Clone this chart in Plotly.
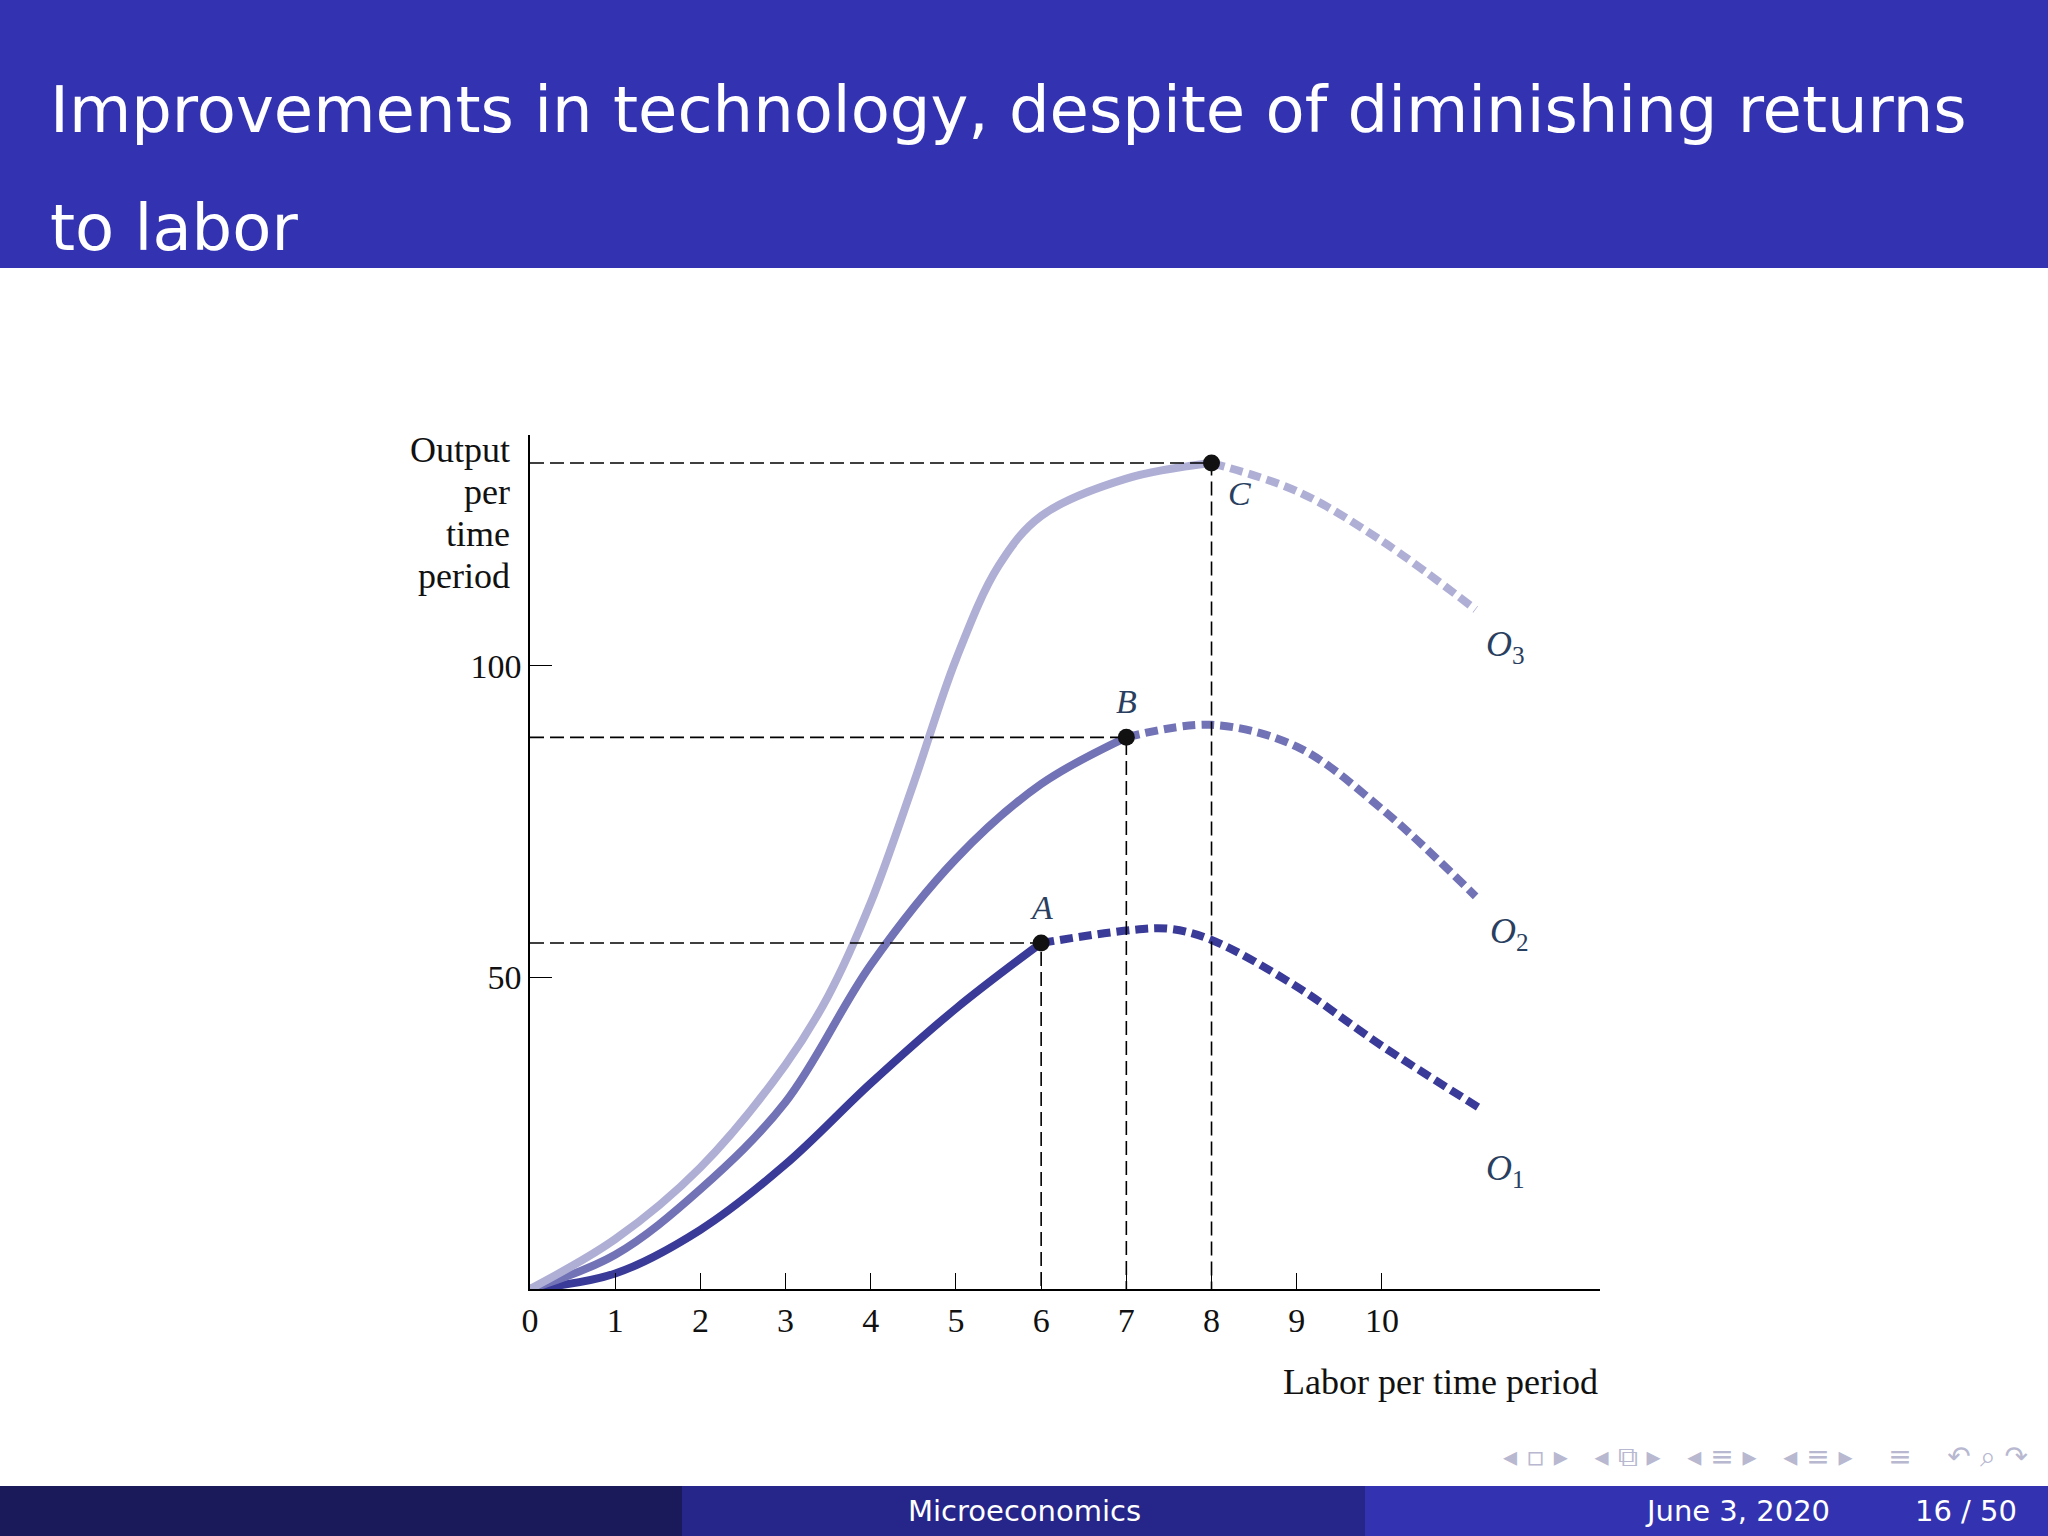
import plotly.graph_objects as go

# data
o1_solid_x = [0, 1, 2, 3, 4, 5, 6]
o1_solid_y = [0, 2.5, 9.5, 20, 33, 45, 55.5]
o1_dash_x = [6, 7, 7.5, 8, 9, 10, 11.15]
o1_dash_y = [55.5, 57.5, 57.8, 56, 48.5, 39, 29]
o2_solid_x = [0, 1, 2, 3, 4, 5, 6, 7]
o2_solid_y = [0, 5.5, 16, 30, 52, 69, 81, 88.5]
o2_dash_x = [7, 8, 9, 10, 11.1]
o2_dash_y = [88.5, 90.5, 87, 77, 63]
o3_solid_x = [0, 1, 2, 3, 3.5, 4, 4.5, 5, 5.5, 6, 7, 8]
o3_solid_y = [0, 8, 19.5, 36, 47, 62, 81, 101, 116, 124, 130, 132.5]
o3_dash_x = [8, 9, 10, 11.1]
o3_dash_y = [132.5, 128, 120, 109]
pts_x = [6, 7, 8]
pts_y = [55.5, 88.5, 132.5]
pt_labels = ["A", "B", "C"]
xticks = [1, 2, 3, 4, 5, 6, 7, 8, 9, 10]
yticks = [50, 100]

W, H = 2048, 1536
L, R, T, B = 530, 1600, 435, 1289
XMAX, YMAX = 12.56, 137
def px(x): return (x - L) / (R - L)
def py(y): return (B - y) / (B - T)

colors = ["#3a3a98", "#7272b6", "#afafd6"]
fig = go.Figure()
series = [(o1_solid_x, o1_solid_y, o1_dash_x, o1_dash_y),
          (o2_solid_x, o2_solid_y, o2_dash_x, o2_dash_y),
          (o3_solid_x, o3_solid_y, o3_dash_x, o3_dash_y)]
for (sx, sy, dx, dy), c in zip(series, colors):
    fig.add_trace(go.Scatter(x=sx, y=sy, mode="lines", line=dict(color=c, width=8, shape="spline"), showlegend=False))
    fig.add_trace(go.Scatter(x=dx, y=dy, mode="lines", line=dict(color=c, width=8, shape="spline", dash="13px,6px"), showlegend=False))

for x, y in zip(pts_x, pts_y):
    fig.add_trace(go.Scatter(x=[0, x, x], y=[y, y, 0], mode="lines", line=dict(color="black", width=1.6, dash="14px,6px"), showlegend=False))
fig.add_trace(go.Scatter(x=pts_x, y=pts_y, mode="markers", marker=dict(color="#111", size=17), showlegend=False))

serif = "Liberation Serif"
ann = []
for x, y, t in zip(pts_x, pts_y, pt_labels):
    if t == "C":
        ann.append(dict(x=x, y=y, text="<i>C</i>", xshift=28, yshift=-30, showarrow=False, font=dict(family=serif, size=34)))
    else:
        ann.append(dict(x=x, y=y, text="<i>%s</i>" % t, yshift=36, showarrow=False, font=dict(family=serif, size=34)))
for lbl, x, y in [("1", 11.45, 29 - 10), ("2", 11.5, 63 - 6), ("3", 11.45, 109 - 6)]:
    ann.append(dict(x=x, y=y, text="<i>O</i><sub>%s</sub>" % lbl, showarrow=False, font=dict(family=serif, size=36)))
for i, t in enumerate(["Output", "per", "time", "period"]):
    ann.append(dict(xref="paper", yref="paper", x=px(512), y=py(450 + 42 * i), text=t, xanchor="right", yanchor="middle", showarrow=False, font=dict(family=serif, size=36, color="#111")))
ann.append(dict(xref="paper", yref="paper", x=1, y=py(1382), text="Labor per time period", xanchor="right", yanchor="middle", showarrow=False, font=dict(family=serif, size=36, color="#111")))
ann.append(dict(xref="paper", yref="paper", x=px(48), y=py(110), text="Improvements in technology, despite of diminishing returns", xanchor="left", yanchor="middle", showarrow=False, font=dict(family="DejaVu Sans", size=64, color="white")))
ann.append(dict(xref="paper", yref="paper", x=px(48), y=py(228), text="to labor", xanchor="left", yanchor="middle", showarrow=False, font=dict(family="DejaVu Sans", size=64, color="white")))
for t, x in [("Microeconomics", 1024), ("June 3, 2020", 1737), ("16 / 50", 1966)]:
    ann.append(dict(xref="paper", yref="paper", x=px(x), y=py(1511), text=t, xanchor="center", yanchor="middle", showarrow=False, font=dict(family="DejaVu Sans", size=29, color="white")))
ann.append(dict(xref="paper", yref="paper", x=px(2030), y=py(1456), text="◂ ▫ ▸   ◂ ⧉ ▸   ◂ ≡ ▸   ◂ ≡ ▸    ≡    ↶ ⌕ ↷", xanchor="right", yanchor="middle", showarrow=False, font=dict(family="DejaVu Sans", size=28, color="#b8b8d0")))

shapes = [
    dict(type="rect", xref="paper", yref="paper", x0=px(0), x1=px(W), y0=py(0), y1=py(268), fillcolor="#3333b2", line_width=0, layer="below"),
    dict(type="rect", xref="paper", yref="paper", x0=px(0), x1=px(682), y0=py(1486), y1=py(1536), fillcolor="#1a1a5a", line_width=0, layer="below"),
    dict(type="rect", xref="paper", yref="paper", x0=px(682), x1=px(1365), y0=py(1486), y1=py(1536), fillcolor="#26268a", line_width=0, layer="below"),
    dict(type="rect", xref="paper", yref="paper", x0=px(1365), x1=px(W), y0=py(1486), y1=py(1536), fillcolor="#3333b2", line_width=0, layer="below"),
]

fig.update_layout(
    width=W, height=H, margin=dict(l=L, r=W - R, t=T, b=H - B),
    plot_bgcolor="white", paper_bgcolor="white",
    annotations=ann, shapes=shapes,
    xaxis=dict(range=[0, XMAX], tickvals=[0] + xticks, ticktext=["0"] + [str(v) for v in xticks], ticks="inside", ticklen=16, tickcolor="black",
               showgrid=False, zeroline=False, showline=True, linecolor="black", linewidth=1.5,
               tickfont=dict(family=serif, size=34, color="#111")),
    yaxis=dict(range=[0, YMAX], tickvals=yticks, ticks="inside", ticklen=22, tickcolor="black", showgrid=False, zeroline=False,
               showline=True, linecolor="black", linewidth=1.5, tickfont=dict(family=serif, size=34, color="#111")),
)
fig.write_html("out.html", config={"displayModeBar": False},
               post_script="document.body.style.margin='0';document.body.style.overflow='hidden';")
